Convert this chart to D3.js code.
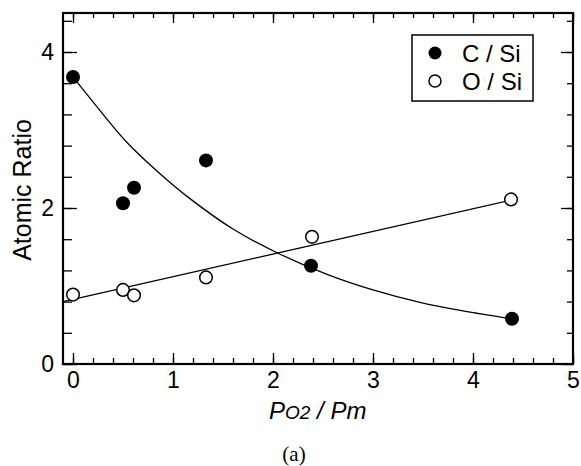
<!DOCTYPE html>
<html>
<head>
<meta charset="utf-8">
<script src="https://cdn.jsdelivr.net/npm/d3@7"></script>
<style>
  body { margin: 0; background: #fff; }
  svg { display: block; font-family: "Liberation Sans", Arial, sans-serif; }
  .tick line { stroke: #000; stroke-width: 1.3; }
  .tick text { font-size: 23px; fill: #000; }
</style>
</head>
<body>
<svg class="chart" width="581" height="466"></svg>
<script>
// C / Si measured points
const cX = [0, 0.5, 0.61, 1.33, 2.38, 4.39]
const cY = [3.68, 2.06, 2.26, 2.61, 1.26, 0.58]
// O / Si measured points
const oX = [0, 0.5, 0.61, 1.33, 2.39, 4.38]
const oY = [0.89, 0.95, 0.88, 1.11, 1.63, 2.11]
// fitted curve for C / Si
const cFitX = [0, 0.2, 0.54, 0.87, 1.17, 1.6, 2.05, 2.54, 3.0, 3.47, 3.9, 4.38]
const cFitY = [3.68, 3.36, 2.84, 2.44, 2.12, 1.73, 1.42, 1.15, 0.95, 0.79, 0.68, 0.58]
// fitted straight line for O / Si
const oFitX = [-0.1, 4.38]
const oFitY = [0.80, 2.10]

const xMajor = [0, 1, 2, 3, 4, 5]
const xMinor = d3.range(26).map(i => i * 0.2)
const yMajor = [0, 2, 4]
const yMinor = d3.range(12).map(i => i * 0.4)

const legendItems = [['C / Si', true], ['O / Si', false]]

const svg = d3.select('svg.chart')

const x = d3.scaleLinear().domain([-0.1, 5]).range([63, 573])
const y = d3.scaleLinear().domain([0, 4.5]).range([364, 13])

const fmt = d3.format('d')

// bottom
svg.append('g')
  .attr('transform', `translate(0, ${y(0)})`)
  .call(d3.axisBottom(x).tickValues(xMinor).tickSize(-6).tickFormat(''))
svg.append('g')
  .attr('transform', `translate(0, ${y(0)})`)
  .call(d3.axisBottom(x).tickValues(xMajor).tickSize(-11).tickPadding(8).tickFormat(fmt))
// top
svg.append('g')
  .attr('transform', `translate(0, ${y(4.5)})`)
  .call(d3.axisTop(x).tickValues(xMinor).tickSize(-5).tickFormat(''))
svg.append('g')
  .attr('transform', `translate(0, ${y(4.5)})`)
  .call(d3.axisTop(x).tickValues(xMajor).tickSize(-10).tickFormat(''))
// left
svg.append('g')
  .attr('transform', `translate(${x(-0.1)}, 0)`)
  .call(d3.axisLeft(y).tickValues(yMinor).tickSize(-9).tickFormat(''))
svg.append('g')
  .attr('transform', `translate(${x(-0.1)}, 0)`)
  .call(d3.axisLeft(y).tickValues(yMajor).tickSize(-14).tickPadding(9).tickFormat(fmt))
// right
svg.append('g')
  .attr('transform', `translate(${x(5)}, 0)`)
  .call(d3.axisRight(y).tickValues(yMinor).tickSize(-6).tickFormat(''))
svg.append('g')
  .attr('transform', `translate(${x(5)}, 0)`)
  .call(d3.axisRight(y).tickValues(yMajor).tickSize(-12).tickFormat(''))

svg.selectAll('.domain').remove()

svg.append('rect')
  .attr('x', x(-0.1))
  .attr('y', y(4.5))
  .attr('width', x(5) - x(-0.1))
  .attr('height', y(0) - y(4.5))
  .attr('fill', 'none')
  .attr('stroke', '#000')
  .attr('stroke-width', 2.2)

// fit lines
svg.append('path')
  .datum(cFitX.map((d, i) => [d, cFitY[i]]))
  .attr('fill', 'none')
  .attr('stroke', '#000')
  .attr('stroke-width', 1.3)
  .attr('d', d3.line().x(d => x(d[0])).y(d => y(d[1])).curve(d3.curveCatmullRom))

svg.append('path')
  .datum(oFitX.map((d, i) => [d, oFitY[i]]))
  .attr('fill', 'none')
  .attr('stroke', '#000')
  .attr('stroke-width', 1.3)
  .attr('d', d3.line().x(d => x(d[0])).y(d => y(d[1])))

// points
svg.append('g')
  .selectAll('circle')
  .data(oX)
  .enter()
  .append('circle')
  .attr('cx', d => x(d))
  .attr('cy', (d, i) => y(oY[i]))
  .attr('r', 6.3)
  .attr('fill', '#fff')
  .attr('stroke', '#000')
  .attr('stroke-width', 1.5)

svg.append('g')
  .selectAll('circle')
  .data(cX)
  .enter()
  .append('circle')
  .attr('cx', d => x(d))
  .attr('cy', (d, i) => y(cY[i]))
  .attr('r', 7)
  .attr('fill', '#000')

// legend
const legend = svg.append('g')
legend.append('rect')
  .attr('x', 412)
  .attr('y', 35)
  .attr('width', 121)
  .attr('height', 66)
  .attr('fill', '#fff')
  .attr('stroke', '#000')
  .attr('stroke-width', 1.5)

const rows = legend.selectAll('g')
  .data(legendItems)
  .enter()
  .append('g')
  .attr('transform', (d, i) => `translate(0, ${53 + i * 28})`)

rows.append('circle')
  .attr('cx', 435)
  .attr('cy', 0)
  .attr('r', (d) => d[1] ? 6.5 : 6)
  .attr('fill', d => d[1] ? '#000' : '#fff')
  .attr('stroke', '#000')
  .attr('stroke-width', d => d[1] ? 0 : 1.5)

rows.append('text')
  .attr('x', 462)
  .attr('y', 9)
  .attr('font-size', 24)
  .text(d => d[0])

// axis titles
svg.append('text')
  .attr('transform', 'translate(31, 190) rotate(-90)')
  .attr('text-anchor', 'middle')
  .attr('font-size', 25)
  .text('Atomic Ratio')

const xt = svg.append('text')
  .attr('x', 269)
  .attr('y', 419)
  .attr('font-size', 24)
  .attr('font-style', 'italic')
xt.append('tspan').text('P')
xt.append('tspan').attr('font-size', 19).text('O2')
xt.append('tspan').text(' / Pm')

svg.append('text')
  .attr('x', 294)
  .attr('y', 461)
  .attr('text-anchor', 'middle')
  .style('font-family', '"Liberation Serif", "DejaVu Serif", serif')
  .attr('font-size', 21)
  .text('(a)')
</script>
</body>
</html>
